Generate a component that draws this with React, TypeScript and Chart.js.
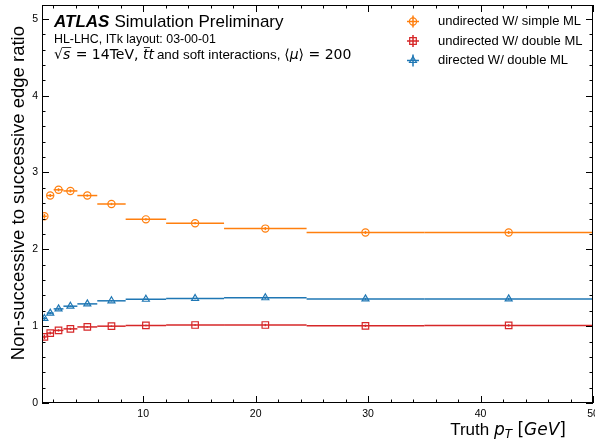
import React, { useEffect, useRef } from 'react';
import { Chart, registerables } from 'chart.js';
Chart.register(...registerables);

// ---- data ----
const binEdges = [1, 1.427, 2.036, 2.905, 4.145, 5.915, 8.44, 12.04, 17.19, 24.53, 35.0, 50];
const simpleUndirected = [2.43, 2.70, 2.775, 2.76, 2.70, 2.59, 2.39, 2.34, 2.27, 2.22, 2.22];
const simpleUndirectedErr = [0.03, 0.02, 0.02, 0.02, 0.015, 0.015, 0.015, 0.015, 0.02, 0.02, 0.02];
const doubleUndirected = [0.86, 0.91, 0.945, 0.965, 0.99, 1.0, 1.01, 1.015, 1.015, 1.005, 1.01];
const doubleUndirectedErr = [0.03, 0.02, 0.015, 0.015, 0.01, 0.01, 0.01, 0.01, 0.015, 0.015, 0.015];
const doubleDirected = [1.10, 1.17, 1.225, 1.26, 1.29, 1.33, 1.35, 1.36, 1.37, 1.355, 1.355];
const doubleDirectedErr = [0.02, 0.015, 0.015, 0.01, 0.01, 0.01, 0.01, 0.01, 0.015, 0.015, 0.015];
const seriesLabels = ['undirected W/ simple ML', 'undirected W/ double ML', 'directed W/ double ML'];
const seriesColors = ['#ff7f0e', '#d62728', '#1f77b4'];
const seriesMarkers = ['circle', 'rect', 'triangle'];
const xMajorTicks = [10, 20, 30, 40, 50];
const yMajorTicks = [0, 1, 2, 3, 4, 5];

const SANS = '"Liberation Sans", Arial, Helvetica, sans-serif';
const MATH = '"DejaVu Sans", sans-serif';

const binCenters = binEdges.slice(0, -1).map((e, i) => (e + binEdges[i + 1]) / 2);
const allValues = [simpleUndirected, doubleUndirected, doubleDirected];
const allErrors = [simpleUndirectedErr, doubleUndirectedErr, doubleDirectedErr];

function drawMarker(ctx: CanvasRenderingContext2D, style: string, x: number, y: number) {
  ctx.beginPath();
  if (style === 'circle') {
    ctx.arc(x, y, 3.6, 0, Math.PI * 2);
  } else if (style === 'rect') {
    ctx.rect(x - 3.3, y - 3.3, 6.6, 6.6);
  } else {
    const r = 4;
    for (let k = 0; k < 3; k++) {
      const a = (k * 2 * Math.PI) / 3;
      const px = x + Math.sin(a) * r;
      const py = y - Math.cos(a) * r;
      if (k === 0) ctx.moveTo(px, py); else ctx.lineTo(px, py);
    }
    ctx.closePath();
  }
  ctx.stroke();
}

const hepPlugin = {
  id: 'hepDecor',
  beforeDatasetsDraw(chart: any) {
    const { ctx, chartArea, scales } = chart;
    const xs = scales.x, ys = scales.y;
    ctx.save();
    ctx.beginPath();
    ctx.rect(chartArea.left, chartArea.top, chartArea.right - chartArea.left, chartArea.bottom - chartArea.top);
    ctx.clip();
    allValues.forEach((vals, s) => {
      ctx.strokeStyle = seriesColors[s];
      ctx.lineWidth = 1.5;
      vals.forEach((v, i) => {
        const y = ys.getPixelForValue(v);
        const x0 = xs.getPixelForValue(binEdges[i]);
        const x1 = xs.getPixelForValue(binEdges[i + 1]);
        const xc = xs.getPixelForValue(binCenters[i]);
        ctx.beginPath();
        ctx.moveTo(x0, y);
        ctx.lineTo(x1, y);
        ctx.stroke();
        const e = allErrors[s][i];
        ctx.beginPath();
        ctx.moveTo(xc, ys.getPixelForValue(v - e));
        ctx.lineTo(xc, ys.getPixelForValue(v + e));
        ctx.stroke();
      });
    });
    ctx.restore();
  },
  afterDraw(chart: any) {
    const { ctx, chartArea, scales } = chart;
    const { left, right, top, bottom } = chartArea;
    const xs = scales.x, ys = scales.y;
    ctx.save();
    // frame
    ctx.strokeStyle = '#000';
    ctx.lineWidth = 1;
    ctx.strokeRect(left + 0.5, top + 0.5, right - left - 1, bottom - top - 1);
    // x ticks
    const drawX = (v: number, len: number) => {
      const p = Math.round(xs.getPixelForValue(v)) + 0.5;
      ctx.beginPath();
      ctx.moveTo(p, bottom); ctx.lineTo(p, bottom - len);
      ctx.moveTo(p, top); ctx.lineTo(p, top + len);
      ctx.stroke();
    };
    for (let v = 2; v < 50; v += 2) {
      if (v % 10 !== 0) drawX(v, 3.5);
    }
    xMajorTicks.forEach((v) => drawX(v, 7));
    const drawY = (v: number, len: number) => {
      const p = Math.round(ys.getPixelForValue(v)) + 0.5;
      ctx.beginPath();
      ctx.moveTo(left, p); ctx.lineTo(left + len, p);
      ctx.moveTo(right, p); ctx.lineTo(right - len, p);
      ctx.stroke();
    };
    for (let k = 1; k <= 25; k++) {
      if (k % 5 !== 0) drawY(k * 0.2, 3.5);
    }
    yMajorTicks.forEach((v) => drawY(v, 7));

    // ATLAS label
    ctx.fillStyle = '#000';
    ctx.textBaseline = 'alphabetic';
    ctx.textAlign = 'left';
    let x = 54;
    ctx.font = `italic bold 17px ${SANS}`;
    ctx.fillText('ATLAS', x, 27);
    x += ctx.measureText('ATLAS').width + 5;
    ctx.font = `17px ${SANS}`;
    ctx.fillText('Simulation Preliminary', x, 27);
    ctx.font = `12.4px ${SANS}`;
    ctx.fillText('HL-LHC, ITk layout: 03-00-01', 54, 43);
    // line 3 with math
    const by = 59;
    const mf = 14;
    x = 54;
    ctx.font = `${mf}px ${MATH}`;
    ctx.fillText('\u221A', x, by);
    const sqrtW = ctx.measureText('\u221A').width;
    const sx0 = x + sqrtW - 0.5;
    x += sqrtW;
    ctx.font = `italic ${mf}px ${MATH}`;
    ctx.fillText('s', x, by);
    const sW = ctx.measureText('s').width;
    ctx.lineWidth = 0.8;
    ctx.beginPath();
    ctx.moveTo(sx0, by - 11.5); ctx.lineTo(x + sW + 1, by - 11.5);
    ctx.stroke();
    x += sW + 1;
    ctx.font = `${mf}px ${MATH}`;
    const eq = ' = 14TeV, ';
    ctx.fillText(eq, x, by);
    x += ctx.measureText(eq).width;
    ctx.font = `italic ${mf}px ${MATH}`;
    const tW = ctx.measureText('t').width;
    ctx.fillText('tt', x, by);
    ctx.beginPath();
    ctx.moveTo(x + 1, by - 11.5); ctx.lineTo(x + tW + 1.5, by - 11.5);
    ctx.stroke();
    x += ctx.measureText('tt').width + 3;
    ctx.font = `13.4px ${SANS}`;
    const mid = 'and soft interactions, ';
    ctx.fillText(mid, x, by);
    x += ctx.measureText(mid).width;
    ctx.font = `${mf}px ${MATH}`;
    ctx.fillText('\u27E8', x, by);
    x += ctx.measureText('\u27E8').width;
    ctx.font = `italic ${mf}px ${MATH}`;
    ctx.fillText('\u03BC', x, by);
    x += ctx.measureText('\u03BC').width;
    ctx.font = `${mf}px ${MATH}`;
    ctx.fillText('\u27E9 = 200', x, by);

    // legend
    seriesLabels.forEach((lab, s) => {
      const ly = 21.5 + s * 19.5;
      const lx = 413;
      ctx.strokeStyle = seriesColors[s];
      ctx.lineWidth = 1.5;
      ctx.beginPath();
      ctx.moveTo(lx - 6, ly); ctx.lineTo(lx + 6, ly);
      ctx.moveTo(lx, ly - 6); ctx.lineTo(lx, ly + 6);
      ctx.stroke();
      ctx.lineWidth = 1.2;
      drawMarker(ctx, seriesMarkers[s], lx, ly);
      ctx.fillStyle = '#000';
      ctx.font = `13px ${SANS}`;
      ctx.textBaseline = 'middle';
      ctx.fillText(lab, 438, ly);
    });

    // y title
    ctx.save();
    ctx.translate(24, 26);
    ctx.rotate(-Math.PI / 2);
    ctx.font = `18.5px ${SANS}`;
    ctx.textAlign = 'right';
    ctx.textBaseline = 'alphabetic';
    ctx.fillStyle = '#000';
    ctx.fillText('Non-successive to successive edge ratio', 0, 0);
    ctx.restore();

    // x title: Truth p_T [GeV], right aligned
    ctx.textBaseline = 'alphabetic';
    ctx.textAlign = 'left';
    const parts: [string, string, number][] = [
      ['Truth ', `17px ${SANS}`, 0],
      ['p', `italic 17px ${MATH}`, 0],
      ['T', `italic 12px ${MATH}`, 3],
      [' [', `17px ${MATH}`, 0],
      ['GeV', `italic 17px ${MATH}`, 0],
      [']', `17px ${MATH}`, 0],
    ];
    let total = 0;
    parts.forEach(([t, f]) => { ctx.font = f; total += ctx.measureText(t).width; });
    x = 566 - total;
    parts.forEach(([t, f, dy]) => {
      ctx.font = f;
      ctx.fillText(t, x, 435 + dy);
      x += ctx.measureText(t).width;
    });
    ctx.restore();
  },
};

export default function App() {
  const ref = useRef<HTMLCanvasElement>(null);
  useEffect(() => {
    document.body.style.margin = '0';
    const datasets = allValues.map((vals, s) => ({
      label: seriesLabels[s],
      data: vals.map((v, i) => ({ x: binCenters[i], y: v })),
      pointStyle: seriesMarkers[s],
      pointRadius: s === 0 ? 3.6 : s === 1 ? 4.6 : 4,
      pointBorderWidth: 1.2,
      borderColor: seriesColors[s],
      backgroundColor: 'rgba(0,0,0,0)',
      pointBackgroundColor: 'rgba(0,0,0,0)',
      showLine: false,
    }));
    const chart = new Chart(ref.current!, {
      type: 'scatter',
      data: { datasets },
      options: {
        animation: false,
        responsive: false,
        devicePixelRatio: 1,
        layout: { padding: { top: 5, right: 2, left: 0, bottom: 0 }, autoPadding: false },
        plugins: { legend: { display: false }, tooltip: { enabled: false } },
        scales: {
          x: {
            type: 'linear',
            min: 1,
            max: 50,
            grid: { display: false, drawTicks: false },
            border: { display: false },
            afterBuildTicks: (s: any) => { s.ticks = xMajorTicks.map((v) => ({ value: v })); },
            afterFit: (s: any) => { s.height = 37; s.paddingLeft = 0; s.paddingRight = 0; },
            ticks: { font: { family: SANS, size: 10.5 }, color: '#000', padding: 5, maxRotation: 0 },
          },
          y: {
            type: 'linear',
            min: 0,
            max: 5.18,
            grid: { display: false, drawTicks: false },
            border: { display: false },
            afterBuildTicks: (s: any) => { s.ticks = yMajorTicks.map((v) => ({ value: v })); },
            afterFit: (s: any) => { s.width = 42; s.paddingTop = 0; s.paddingBottom = 0; },
            ticks: { font: { family: SANS, size: 10.5 }, color: '#000', padding: 4 },
          },
        },
      },
      plugins: [hepPlugin],
    } as any);
    return () => chart.destroy();
  }, []);
  return <canvas ref={ref} width={595} height={440} style={{ display: 'block' }} />;
}
